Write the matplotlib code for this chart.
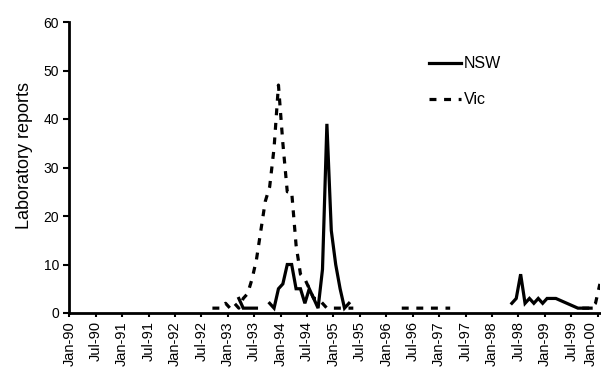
import numpy as np
import matplotlib
matplotlib.use("Agg")
import matplotlib.pyplot as plt

plt.rcParams['font.family'] = ['Liberation Sans', 'DejaVu Sans']
plt.rcParams['lines.scale_dashes'] = False

# monthly laboratory reports, Jan-90 .. Jan-00 (None = no data)
nsw = ([None] * 38 + [3, 1, 1, 1, 1] + [None] * 2 +
       [2, 1, 5, 6, 10, 10, 5, 5, 2, 5, 3, 1, 9, 39, 17, 10, 5, 1, 2] +
       [None] * 36 +
       [2, 3, 8, 2, 3, 2, 3, 2, 3, 3, 3, 2.6, 2.2, 1.8, 1.4, 1, 1, 1, 1] +
       [None] * 2)
vic = ([None] * 32 +
       [1, 1, 1, 2, 1, 2, 1, 3, 4, 7, 11, 17, 23, 26, 34, 47, 35, 25, 25,
        14, 8, 7, 5, 3, 3, 2, 1, 1, 1, 1, 1, 1, 1] +
       [None] * 10 + [1] * 12 + [None] * 29 +
       [1, 1, 1, 2, 6])

tick_labels = ['Jan-90', 'Jul-90', 'Jan-91', 'Jul-91', 'Jan-92', 'Jul-92',
               'Jan-93', 'Jul-93', 'Jan-94', 'Jul-94', 'Jan-95', 'Jul-95',
               'Jan-96', 'Jul-96', 'Jan-97', 'Jul-97', 'Jan-98', 'Jul-98',
               'Jan-99', 'Jul-99', 'Jan-00']

nsw = np.array(nsw, dtype=float)
vic = np.array(vic, dtype=float)
x = np.arange(len(nsw)) + 0.5

fig = plt.figure(figsize=(6.01, 3.70), dpi=100)
ax = fig.add_axes([69.3 / 601, 57 / 370, 530.6 / 601, 291 / 370])

ax.plot(x, nsw, color='black', lw=2.3, label='NSW', solid_joinstyle='miter')
ax.plot(x, vic, color='black', lw=2.3, dashes=(5, 5.5), label='Vic')

ax.set_xlim(0, 120.5)
ax.set_ylim(0, 60)
ax.set_yticks(range(0, 61, 10))
ax.set_xticks(np.arange(0, 121, 6))
ax.set_xticklabels(tick_labels, rotation=90, fontsize=10.5)
# keep the last label inside the picture
ax.get_xticklabels()[-1].set_horizontalalignment('right')
ax.tick_params(axis='y', labelsize=10, direction='out', length=4, width=1.5)
ax.tick_params(axis='x', direction='out', length=3, width=1.5, pad=3)

for s in ['top', 'right']:
    ax.spines[s].set_visible(False)
for s in ['left', 'bottom']:
    ax.spines[s].set_linewidth(2)

ax.set_ylabel('Laboratory reports', fontsize=13)
ax.yaxis.set_label_coords(-0.069, 0.54)

ax.legend(loc='upper left', bbox_to_anchor=(0.651, 0.931), frameon=False,
          fontsize=11.5, handlelength=2.0, handletextpad=0.2, labelspacing=1.3)

fig.savefig('out.png', dpi=100)
